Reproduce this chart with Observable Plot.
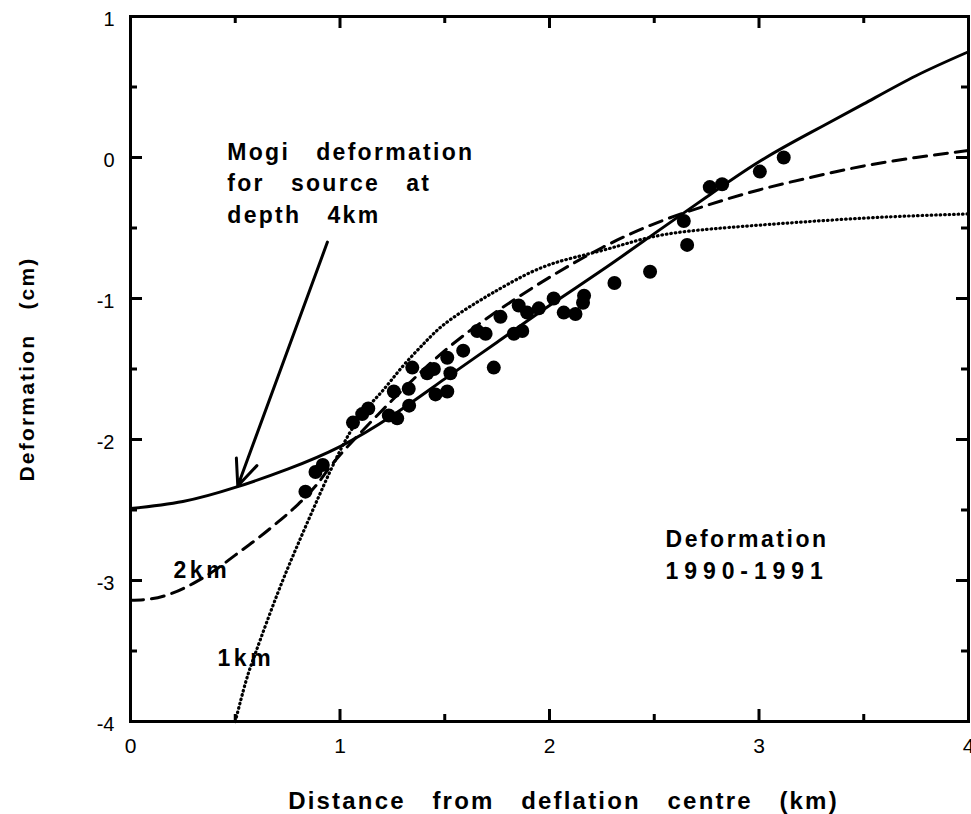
<!DOCTYPE html>
<html>
<head>
<meta charset="utf-8">
<script src="https://cdn.jsdelivr.net/npm/d3@7"></script>
<script src="https://cdn.jsdelivr.net/npm/@observablehq/plot@0.6"></script>
<style>
  body { margin: 0; background: #fff; }
  #chart svg { display: block; }
</style>
</head>
<body>
<div id="chart"></div>
<script>
// ---- Axis ticks ----
const xMajorTicks = [0, 1, 2, 3, 4];
const xMinorTicks = [0.5, 1.5, 2.5, 3.5];
const yMajorTicks = [-4, -3, -2, -1, 0, 1];
const yMinorTicks = [-3.5, -2.5, -1.5, -0.5, 0.5];

// ---- Mogi model curve, source depth 4 km (solid) ----
const depth4Dist = [0, 0.25, 0.5, 0.75, 1.0, 1.25, 1.5, 1.75, 2.0, 2.25, 2.5, 2.75, 3.0, 3.25, 3.5, 3.75, 4.0];
const depth4Def  = [-2.49, -2.44, -2.34, -2.21, -2.05, -1.83, -1.57, -1.31, -1.05, -0.80, -0.54, -0.28, -0.03, 0.18, 0.38, 0.58, 0.75];

// ---- Mogi model curve, source depth 2 km (dashed) ----
const depth2Dist = [0, 0.1, 0.2, 0.3, 0.4, 0.5, 0.6, 0.7, 0.8, 0.9, 1.0, 1.25, 1.5, 1.75, 2.0, 2.25, 2.5, 2.75, 3.0, 3.25, 3.5, 3.75, 4.0];
const depth2Def  = [-3.14, -3.13, -3.09, -3.02, -2.93, -2.82, -2.71, -2.59, -2.46, -2.30, -2.11, -1.72, -1.37, -1.09, -0.85, -0.64, -0.47, -0.34, -0.23, -0.14, -0.06, 0.00, 0.05];

// ---- Mogi model curve, source depth 1 km (dotted) ----
const depth1Dist = [0.5, 0.55, 0.6, 0.7, 0.8, 0.9, 1.0, 1.1, 1.2, 1.3, 1.4, 1.5, 1.65, 1.8, 2.0, 2.25, 2.5, 2.75, 3.0, 3.5, 4.0];
const depth1Def  = [-4.0, -3.72, -3.50, -3.10, -2.74, -2.40, -2.08, -1.83, -1.66, -1.48, -1.32, -1.18, -1.03, -0.90, -0.76, -0.66, -0.56, -0.51, -0.48, -0.43, -0.40];

// ---- Observed deformation 1990-1991 ----
const obsDist = [0.835, 0.883, 0.918, 1.062, 1.106, 1.135, 1.233, 1.257, 1.273, 1.328, 1.330, 1.345, 1.416, 1.448, 1.512, 1.527, 1.456, 1.512, 1.588, 1.734, 1.655, 1.695, 1.766, 1.830, 1.870, 1.853, 1.893, 1.949, 2.020, 2.068, 2.124, 2.165, 2.160, 2.310, 2.480, 2.657, 2.641, 2.765, 2.824, 3.004, 3.118];
const obsDef  = [-2.37, -2.23, -2.18, -1.88, -1.82, -1.78, -1.83, -1.66, -1.85, -1.64, -1.76, -1.49, -1.53, -1.50, -1.42, -1.53, -1.68, -1.66, -1.37, -1.49, -1.23, -1.25, -1.13, -1.25, -1.23, -1.05, -1.10, -1.07, -1.00, -1.10, -1.11, -0.98, -1.03, -0.89, -0.81, -0.62, -0.45, -0.21, -0.19, -0.10, 0.00];

// ---- Annotations (text, anchor in data units) ----
const annotText = ["Mogi\u00a0\u00a0\u00a0deformation\nfor\u00a0\u00a0\u00a0source\u00a0\u00a0\u00a0at\ndepth\u00a0\u00a0\u00a04km", "Deformation\n1990-1991", "2km", "1km"];
const annotX = [0.462, 2.554, 0.205, 0.415];
const annotY = [-0.461, -2.986, -2.979, -3.603];

// ---- Arrow pointing at the 4 km curve ----
const arrowFrom = [0.94, -0.60];
const arrowTo = [0.512, -2.33];

const xTitle = "Distance\u00a0\u00a0\u00a0from\u00a0\u00a0\u00a0deflation\u00a0\u00a0\u00a0centre\u00a0\u00a0\u00a0(km)";
const yTitle = "Deformation\u00a0\u00a0\u00a0(cm)";

const toRows = (xs, ys) => xs.map((x, i) => ({x, y: ys[i]}));
const depth4 = toRows(depth4Dist, depth4Def);
const depth2 = toRows(depth2Dist, depth2Def);
const depth1 = toRows(depth1Dist, depth1Def);
const obs = toRows(obsDist, obsDef);
const annots = annotText.map((t, i) => ({t, x: annotX[i], y: annotY[i]}));

const W = 971, H = 814, mL = 130, mR = 3, mT = 16, mB = 93;
const fw = W - mL - mR, fh = H - mT - mB;
const fmt = d => (d < 0 ? "-" + Math.abs(d) : String(d));

const tickStyle = {stroke: "#000", strokeWidth: 3};
const chart = Plot.plot({
  width: W, height: H,
  marginLeft: mL, marginRight: mR, marginTop: mT, marginBottom: mB,
  style: {fontFamily: "'Liberation Sans', Arial, sans-serif", background: "#fff", color: "#000", fontSize: "20px"},
  x: {domain: [0, 4]},
  y: {domain: [-4, 1]},
  marks: [
    Plot.frame({stroke: "#000", strokeWidth: 3}),
    // inward ticks on all four sides (major 12px, minor 7px)
    Plot.tickX(xMajorTicks, {x: d => d, insetTop: fh - 12, ...tickStyle}),
    Plot.tickX(xMinorTicks, {x: d => d, insetTop: fh - 7, ...tickStyle}),
    Plot.tickX(xMajorTicks, {x: d => d, insetBottom: fh - 12, ...tickStyle}),
    Plot.tickX(xMinorTicks, {x: d => d, insetBottom: fh - 7, ...tickStyle}),
    Plot.tickY(yMajorTicks, {y: d => d, insetRight: fw - 12, ...tickStyle}),
    Plot.tickY(yMinorTicks, {y: d => d, insetRight: fw - 7, ...tickStyle}),
    Plot.tickY(yMajorTicks, {y: d => d, insetLeft: fw - 12, ...tickStyle}),
    Plot.tickY(yMinorTicks, {y: d => d, insetLeft: fw - 7, ...tickStyle}),
    Plot.axisX({ticks: xMajorTicks, tickSize: 0, tickPadding: 17, fontSize: 21, tickFormat: fmt, label: null}),
    Plot.axisY({ticks: yMajorTicks, tickSize: 0, tickPadding: 16, fontSize: 20, tickFormat: fmt, label: null, dy: 3}),
    // titles
    Plot.text([xTitle], {frameAnchor: "bottom", textAnchor: "middle", dy: 87, dx: 14, lineAnchor: "bottom", fontSize: 24, fontWeight: "bold", fill: "#000"}),
    Plot.text([yTitle], {frameAnchor: "left", textAnchor: "middle", dx: -103, rotate: -90, fontSize: 21, fontWeight: "bold", fill: "#000"}),
    // model curves
    Plot.line(depth1, {x: "x", y: "y", curve: "natural", stroke: "#000", strokeWidth: 3.2, strokeDasharray: "0.6,3.9", strokeLinecap: "round"}),
    Plot.line(depth2, {x: "x", y: "y", curve: "natural", stroke: "#000", strokeWidth: 3, strokeDasharray: "13,8"}),
    Plot.line(depth4, {x: "x", y: "y", curve: "natural", stroke: "#000", strokeWidth: 3}),
    // observations
    Plot.dot(obs, {x: "x", y: "y", r: 7, fill: "#000", stroke: "none"}),
    // arrow
    Plot.arrow([{x1: arrowFrom[0], y1: arrowFrom[1], x2: arrowTo[0], y2: arrowTo[1]}],
      {x1: "x1", y1: "y1", x2: "x2", y2: "y2", stroke: "#000", strokeWidth: 3, headLength: 14, headAngle: 46}),
    // annotations
    Plot.text(annots, {x: "x", y: "y", text: "t", textAnchor: "start", lineAnchor: "bottom", lineHeight: 1.35, fontSize: 23, fontWeight: "bold", fill: "#000"})
  ]
});

// letter spacing for the bold labels
const svg = d3.select(chart.tagName.toLowerCase() === "svg" ? chart : chart.querySelector("svg"));
svg.selectAll("text").each(function () {
  const t = this.textContent;
  const sel = d3.select(this);
  if (t.startsWith("Distance")) sel.attr("letter-spacing", 2.2);
  else if (t.startsWith("Deformation\u00a0")) sel.attr("letter-spacing", 2.2);
  else if (t.startsWith("Mogi")) sel.attr("letter-spacing", 2.3);
  else if (t.startsWith("Deformation")) {
    sel.selectAll("tspan").each(function (d, i) {
      d3.select(this).attr("letter-spacing", i === 0 ? 2.5 : 5.9);
    });
  } else if (t === "2km" || t === "1km") sel.attr("letter-spacing", 3.6);
});

document.getElementById("chart").appendChild(chart);
</script>
</body>
</html>
